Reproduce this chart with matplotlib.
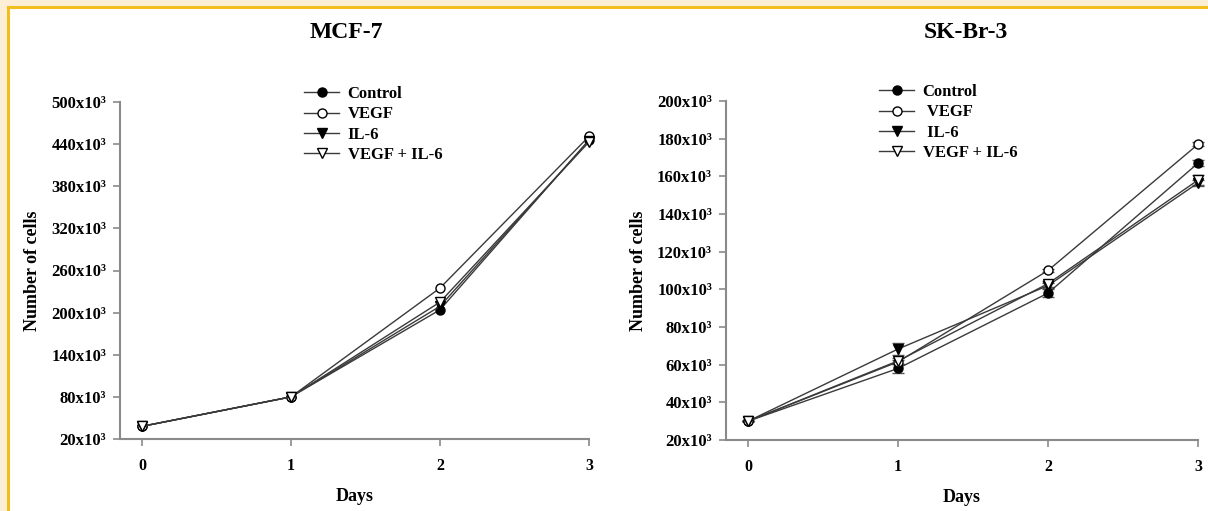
import matplotlib
matplotlib.use("Agg")
import matplotlib.pyplot as plt
from matplotlib.patches import Rectangle

# Days on the x axis
days = [0, 1, 2, 3]
series_names = ["Control", "VEGF", "IL-6", "VEGF + IL-6"]
legend_right = ["Control", " VEGF", " IL-6", "VEGF + IL-6"]

# MCF-7 cell counts
mcf_control = [38000, 80000, 204000, 446000]
mcf_vegf = [38000, 80000, 235000, 451000]
mcf_il6 = [38000, 80000, 209000, 445000]
mcf_vegf_il6 = [38000, 80000, 215000, 443000]

# SK-Br-3 cell counts and error bars
sk_control = [30000, 58000, 98000, 167000]
sk_vegf = [30000, 61500, 110000, 177000]
sk_il6 = [30000, 68300, 102000, 156500]
sk_vegf_il6 = [30000, 62000, 103000, 158000]
sk_control_err = [0, 2500, 2000, 1500]
sk_vegf_err = [0, 1000, 1000, 1000]
sk_il6_err = [0, 3300, 1500, 1500]
sk_vegf_il6_err = [0, 1500, 1500, 2500]

mcf_ticks = [20000, 80000, 140000, 200000, 260000, 320000, 380000, 440000, 500000]
sk_ticks = [20000, 40000, 60000, 80000, 100000, 120000, 140000, 160000, 180000, 200000]

plt.rcParams["font.family"] = ["Liberation Serif", "DejaVu Serif"]
plt.rcParams["font.weight"] = "bold"

fig = plt.figure(figsize=(12.08, 5.11), dpi=100)
fig.patch.set_facecolor("#FCEFD6")
fig.patches.append(Rectangle((8 / 1208, -0.1), 1.2, 1.1 - 7.5 / 511,
                             transform=fig.transFigure, facecolor="white",
                             edgecolor="#F2BE1E", linewidth=2.2, zorder=-5))

styles = [
    dict(marker="o", markerfacecolor="black"),
    dict(marker="o", markerfacecolor="white"),
    dict(marker="v", markerfacecolor="black"),
    dict(marker="v", markerfacecolor="white"),
]
line_col = "#3a3a3a"
spine_col = "#8a8a8a"


def fmt(v):
    return "%dx10³" % (v // 1000)


def setup(ax, ticks, title, title_x):
    ax.set_facecolor("none")
    ax.set_xlim(-0.147, 3.0)
    ax.set_ylim(ticks[0], ticks[-1])
    ax.set_xticks(days)
    ax.set_xticklabels([str(d) for d in days], fontsize=11.5, fontweight="bold")
    ax.set_yticks(ticks)
    ax.set_yticklabels([fmt(t) for t in ticks], fontsize=12, fontweight="bold")
    for s in ["top", "right"]:
        ax.spines[s].set_visible(False)
    for s in ["left", "bottom"]:
        ax.spines[s].set_color(spine_col)
        ax.spines[s].set_linewidth(1.5)
    ax.tick_params(direction="out", length=5, width=1.2, color=spine_col, pad=5)
    ax.tick_params(axis="x", pad=9)
    ax.set_xlabel("Days", fontsize=13, fontweight="bold", labelpad=10)
    ax.set_ylabel("Number of cells", fontsize=13, fontweight="bold", labelpad=7)
    fig.text(title_x, 1 - 33 / 511, title, ha="center", va="center",
             fontsize=17, fontweight="bold")


# MCF-7
ax1 = fig.add_axes([120 / 1208, 1 - 439 / 511, (589 - 120) / 1208, (439 - 102) / 511])
for vals, st, name in zip([mcf_control, mcf_vegf, mcf_il6, mcf_vegf_il6], styles, series_names):
    ax1.plot(days, vals, color=line_col, linewidth=1.0, markersize=6.5,
             markeredgecolor="black", markeredgewidth=1.0, label=name, clip_on=False, **st)
setup(ax1, mcf_ticks, "MCF-7", 346 / 1208)
ax1.legend(loc="upper left", bbox_to_anchor=(296 / 1208, 1 - 78 / 511),
           bbox_transform=fig.transFigure, frameon=False,
           handlelength=2.1, handletextpad=0.5, labelspacing=0.25, borderpad=0,
           prop={"weight": "bold", "size": 12})

# SK-Br-3
ax2 = fig.add_axes([726 / 1208, 1 - 440 / 511, (1198 - 726) / 1208, (440 - 101) / 511])
handles = []
for vals, err, st, name in zip([sk_control, sk_vegf, sk_il6, sk_vegf_il6],
                               [sk_control_err, sk_vegf_err, sk_il6_err, sk_vegf_il6_err],
                               styles, legend_right):
    c = ax2.errorbar(days, vals, yerr=err, color=line_col, linewidth=1.0, markersize=6.5,
                     markeredgecolor="black", markeredgewidth=1.0, ecolor="#555555",
                     elinewidth=1.0, capsize=4, label=name, clip_on=False, **st)
    handles.append(c.lines[0])
setup(ax2, sk_ticks, "SK-Br-3", 966 / 1208)
ax2.legend(handles=handles, labels=legend_right, loc="upper left",
           bbox_to_anchor=(871 / 1208, 1 - 76 / 511),
           bbox_transform=fig.transFigure, frameon=False,
           handlelength=2.1, handletextpad=0.5, labelspacing=0.25, borderpad=0,
           prop={"weight": "bold", "size": 12})

fig.savefig("out.png", dpi=100, facecolor=fig.get_facecolor())
